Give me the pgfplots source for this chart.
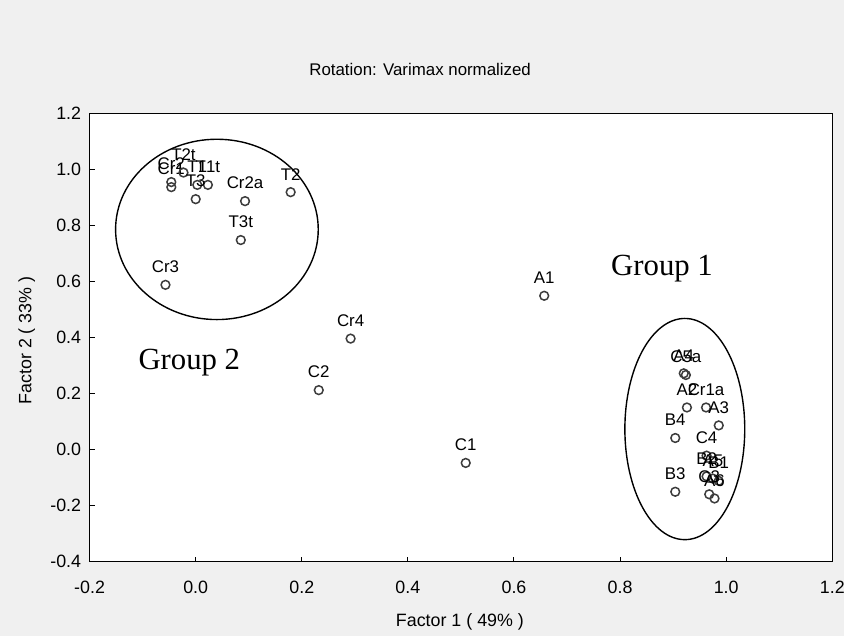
\documentclass[border=0pt]{standalone}
\usepackage{pgfplots}
\pgfplotsset{compat=1.18}
\usepackage{fontspec}
\setmainfont{Liberation Sans}
\newfontfamily\grpfont{Liberation Serif}
\definecolor{bggray}{HTML}{F0F0F0}
\definecolor{markgray}{HTML}{3C3C3C}

\pgfplotstableread{
x      y      label
-0.046 0.955  Cr2
-0.046 0.937  Cr1
-0.023 0.989  T2t
0.003  0.945  T1
0.023  0.945  T1t
0.000  0.894  T3
0.093  0.887  Cr2a
0.179  0.919  T2
0.085  0.748  T3t
-0.057 0.588  Cr3
0.292  0.396  Cr4
0.232  0.212  C2
0.509  -0.048 C1
0.657  0.549  A1
0.920  0.272  A4
0.924  0.266  C5a
0.926  0.150  A2
0.962  0.150  Cr1a
0.986  0.086  A3
0.904  0.041  B4
0.963  -0.022 C4
0.963  -0.096 B2
0.986  -0.112 B1
0.975  -0.104 A5
0.968  -0.160 C3
0.978  -0.175 A6
0.904  -0.151 B3
}\loadings

\begin{document}
\begin{tikzpicture}[x=1bp,y=1bp]
\fill[bggray] (-90,-75) rectangle (758,564);
\begin{axis}[
  at={(0,0)}, anchor=south west,
  width=746bp, height=450bp, scale only axis,
  xmin=-0.2, xmax=1.2, ymin=-0.4, ymax=1.2,
  axis background/.style={fill=white},
  axis line style={line width=1.4bp, black},
  tick align=inside, xtick pos=bottom, ytick pos=left,
  major tick length=5bp,
  tick style={line width=1bp, black},
  xtick={-0.2,0,0.2,0.4,0.6,0.8,1.0,1.2},
  xticklabels={-0.2,0.0,0.2,0.4,0.6,0.8,1.0,1.2},
  ytick={-0.4,-0.2,0,0.2,0.4,0.6,0.8,1.0,1.2},
  yticklabels={-0.4,-0.2,0.0,0.2,0.4,0.6,0.8,1.0,1.2},
  ticklabel style={font=\fontsize{18}{21}\selectfont},
  x tick label style={yshift=-16bp},
  y tick label style={xshift=-5bp},
  clip=false,
]
\addplot[only marks, mark=o, mark size=4.4bp,
  mark options={draw=markgray, line width=1.5bp},
  point meta=explicit symbolic,
  nodes near coords, nodes near coords align={above},
  every node near coord/.append style={font=\fontsize{17}{19}\selectfont, black, yshift=8bp}]
  table[x=x, y=y, meta=label] {\loadings};
\draw[line width=1.4bp] (axis cs:0.040,0.786) ellipse [x radius=0.191, y radius=0.322];
\draw[line width=1.4bp] (axis cs:0.922,0.073) ellipse [x radius=0.113, y radius=0.395];
\node[font=\grpfont\fontsize{31}{34}\selectfont] at (axis cs:0.879,0.645) {Group 1};
\node[font=\grpfont\fontsize{31}{34}\selectfont] at (axis cs:-0.012,0.31) {Group 2};
\end{axis}
\node[font=\fontsize{17}{20}\selectfont] at (332,494) {Rotation: Varimax normalized};
\node[font=\fontsize{18}{21}\selectfont] at (372,-61) {Factor 1 ( 49\% )};
\node[font=\fontsize{18}{21}\selectfont, rotate=90] at (-63,222) {Factor 2 ( 33\% )};
\end{tikzpicture}
\end{document}
